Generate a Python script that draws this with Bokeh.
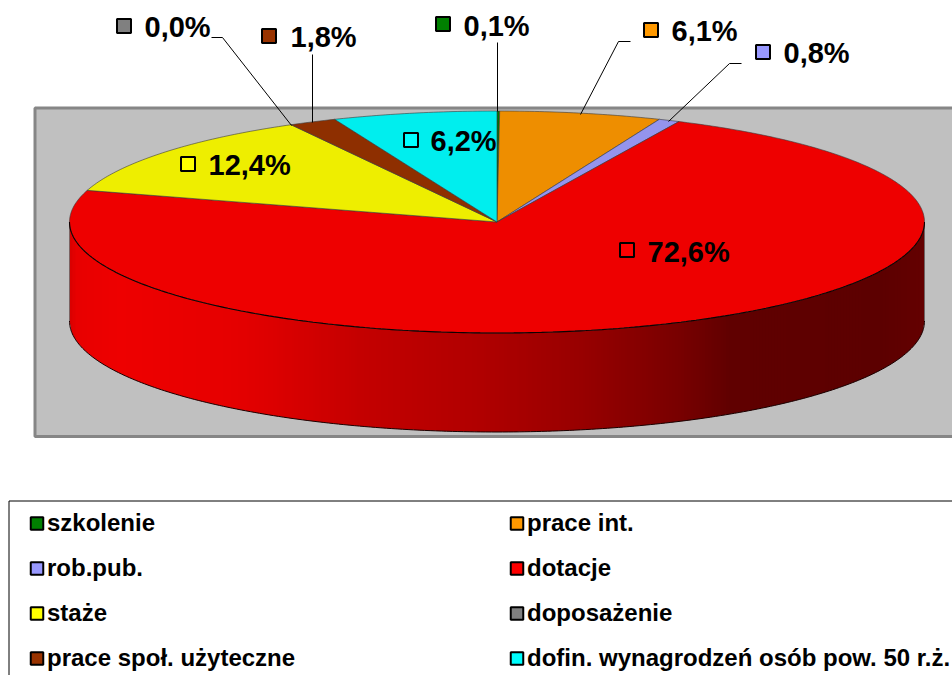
import numpy as np
from bokeh.plotting import figure
from bokeh.core.properties import value
from bokeh.embed import file_html
from bokeh.resources import INLINE

# ---- data, in drawing order (clockwise from 12 o'clock) ----
categories = ["szkolenie", "prace int.", "rob.pub.", "dotacje", "staże", "doposażenie",
              "prace społ. użyteczne", "dofin. wynagrodzeń osób pow. 50 r.ż."]
shares = [0.1, 6.1, 0.8, 72.6, 12.4, 0.0, 1.8, 6.2]
share_labels = ["0,1%", "6,1%", "0,8%", "72,6%", "12,4%", "0,0%", "1,8%", "6,2%"]
legend_colors = ["#008000", "#ff9900", "#9999ff", "#ff0000", "#ffff00", "#808080", "#993300", "#00ffff"]
top_colors = ["#007700", "#ee8e00", "#9494ee", "#ee0000", "#eeee00", "#777777", "#8e2f00", "#00eeee"]

# ---- layout (pixels of the picture) ----
W, H = 952, 675
CX, CY, RX, RY, DEPTH = 496.5, 221.5, 427.5, 111, 99
FONT = value("Liberation Sans")
key_x = [442.5, 650.5, 762.5, 626.5, 187.5, 123.5, 268.5, 410.5]
key_y = [23.5, 29.5, 51.5, 249.5, 163.5, 25.5, 35.5, 139.5]
lab_x = [463, 671, 783, 647, 208, 144, 290, 430]
lab_y = [25.5, 30.5, 52.5, 251.5, 164.5, 26.5, 36.5, 140.5]
leaders = [
    ([497, 497], [42, 111]),
    ([630, 618, 580], [41, 41, 114]),
    ([741, 729, 668], [63, 63, 121]),
    ([211, 222, 291], [37, 37, 125]),
    ([312, 312], [54, 122]),
]
leg_order = [0, 1, 2, 3, 4, 5, 6, 7]
leg_col_x = [36.5, 516.5]
leg_row_y = [523, 568, 613, 658]

p = figure(width=W, height=H, x_range=(0, W), y_range=(H, 0),
           output_backend="svg", toolbar_location=None, min_border=0,
           outline_line_color=None, background_fill_color="white", border_fill_color="white")
p.xaxis.visible = False
p.yaxis.visible = False
p.grid.visible = False

# plot area
p.quad(left=[34.5], right=[970], top=[107.5], bottom=[436],
       fill_color="#c0c0c0", line_color="#868686", line_width=3)

# side wall of the pie: only the front half shows
def ell(t):
    return CX + RX * np.sin(t), CY - RY * np.cos(t)

edges = np.arange(CX - RX, CX + RX + 3, 3.0)
edges[-1] = CX + RX
stop_x = [69, 76, 120, 230, 270, 360, 480, 580, 680, 730, 880, 924]
stop_r = [216, 232, 238, 230, 221, 196, 176, 152, 120, 96, 92, 100]
xs, ys, cols = [], [], []
for a, b in zip(edges[:-1], edges[1:]):
    bb = min(b + 0.7, CX + RX)
    gx = np.array([a, (a + bb) / 2, bb])
    gy = CY + RY * np.sqrt(np.clip(1 - ((gx - CX) / RX) ** 2, 0, 1))
    xs.append(list(gx) + list(gx[::-1]))
    ys.append(list(gy) + list((gy + DEPTH)[::-1]))
    r = int(round(np.interp((a + b) / 2, stop_x, stop_r)))
    cols.append(f"#{r:02x}0000")
p.patches(xs, ys, fill_color=cols, line_color=None)

# outline of the wall
t_front = np.linspace(np.pi / 2, 3 * np.pi / 2, 241)
ex, ey = ell(t_front)
p.line(ex, ey + DEPTH, line_color="#1a0000", line_width=1)
p.line([CX - RX, CX - RX], [CY, CY + DEPTH], line_color="#666666", line_width=0.8)
p.line([CX + RX, CX + RX], [CY, CY + DEPTH], line_color="#666666", line_width=0.8)

# top faces, from the shares
bounds = np.cumsum([0] + shares) / sum(shares) * 2 * np.pi
for i, (a, b) in enumerate(zip(bounds[:-1], bounds[1:])):
    if b - a <= 0:
        continue
    t = np.linspace(a, b, max(3, int((b - a) * 90)))
    sx, sy = ell(t)
    p.patch(np.r_[CX, sx], np.r_[CY, sy], fill_color=top_colors[i],
            line_color="#3a3a3a", line_width=0.6)
# dark front rim on the top face
p.line(ex, ey, line_color="#100000", line_width=1.1)

# leader lines
for lx, ly in leaders:
    p.line(lx, ly, line_color="black", line_width=1)

# value labels with legend keys
p.scatter(key_x, key_y, marker="square", size=14, fill_color=legend_colors,
          line_color="black", line_width=2)
p.text(lab_x, lab_y, text=share_labels, text_font=FONT, text_font_style="bold",
       text_font_size="29px", text_color="black", text_align="left", text_baseline="middle")

# legend box
p.line([980, 8.5, 8.5], [500.5, 500.5, 700], line_color="black", line_width=1)
leg_x = [leg_col_x[i % 2] for i in leg_order]
leg_y = [leg_row_y[i // 2] for i in leg_order]
p.scatter(leg_x, leg_y, marker="square", size=12.5, fill_color=legend_colors,
          line_color="black", line_width=2)
p.text([x + 10 for x in leg_x], [y - 1.5 for y in leg_y], text=categories, text_font=FONT,
       text_font_style="bold", text_font_size="24px", text_color="black",
       text_align="left", text_baseline="middle")

open("out.html", "w").write(file_html(p, INLINE))
